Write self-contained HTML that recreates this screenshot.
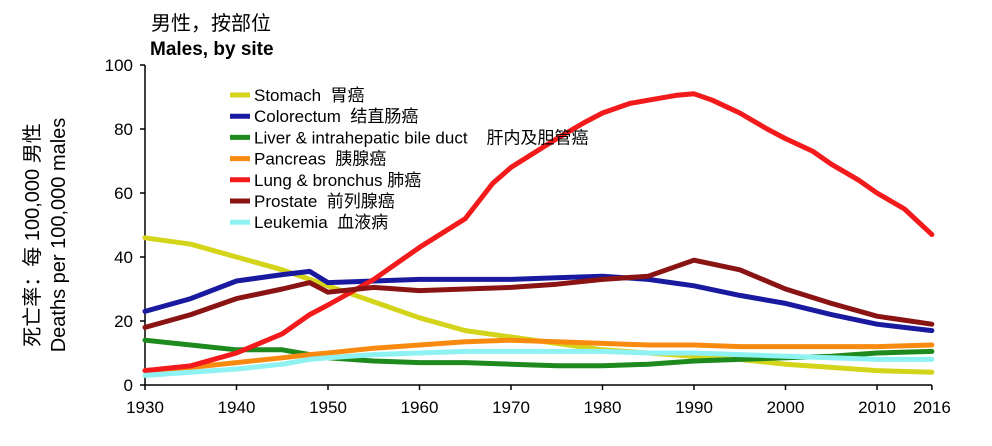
<!DOCTYPE html>
<html><head><meta charset="utf-8"><style>
body{margin:0;background:#fff;}
svg{display:block;font-family:"Liberation Sans","Noto Sans CJK SC",sans-serif;}
</style></head><body>
<svg id="chart" width="992" height="446" viewBox="0 0 992 446">
<text x="151" y="30" font-size="20">男性，按部位</text>
<text x="150" y="55" font-size="19" font-weight="bold">Males, by site</text>
<g transform="translate(39,235) rotate(-90)"><text x="0" y="0" text-anchor="middle" font-size="20">死亡率：每 100,000 男性</text><text x="0" y="26" text-anchor="middle" font-size="20">Deaths per 100,000 males</text></g>
<g id="axes"></g><g id="lines"></g><g id="legend"></g>
</svg>
<script>
const years=[1930,1935,1940,1945,1948,1950,1955,1960,1965,1970,1975,1980,1985,1990,1995,2000,2005,2010,2016];
const lungYears=[1930,1935,1940,1945,1948,1950,1955,1957,1960,1965,1968,1970,1975,1978,1980,1983,1985,1988,1990,1992,1995,1998,2000,2003,2005,2008,2010,2013,2016];
const lung=[4.5,6,10,16,22,25,33,37,43,52,63,68,77,82,85,88,89,90.5,91,89,85,80,77,73,69,64,60,55,47];
const stomach=[46,44,40,36,33,31,26,21,17,15,13,11,10,9,8,6.5,5.5,4.5,4];
const colorectum=[23,27,32.5,34.5,35.5,32,32.5,33,33,33,33.5,34,33,31,28,25.5,22,19,17];
const liver=[14,12.5,11,11,9.5,8.5,7.5,7,7,6.5,6,6,6.5,7.5,8,8.5,9,10,10.5];
const pancreas=[4.5,5.5,7,8.5,9.5,10,11.5,12.5,13.5,14,13.5,13,12.5,12.5,12,12,12,12,12.5];
const prostate=[18,22,27,30,32,29,30.5,29.5,30,30.5,31.5,33,34,39,36,30,25.5,21.5,19];
const leukemia=[3,4,5,6.5,8,8.5,9.5,10,10.5,10.5,10.5,10.5,10,10,9.5,9,8.5,8,8];
const yTicks=[0,20,40,60,80,100];
const xTicks=[1930,1940,1950,1960,1970,1980,1990,2000,2010,2016];
const series=[
{name:'Stomach',cn:'胃癌',color:'#d4d41a',xs:years,ys:stomach,key:'stomach',gap:'\u00a0\u00a0'},
{name:'Colorectum',cn:'结直肠癌',color:'#1a1aa0',xs:years,ys:colorectum,key:'colorectum',gap:'\u00a0\u00a0'},
{name:'Liver & intrahepatic bile duct',cn:'肝内及胆管癌',color:'#1e8a1e',xs:years,ys:liver,key:'liver',gap:'\u00a0\u00a0\u00a0\u00a0'},
{name:'Pancreas',cn:'胰腺癌',color:'#f98a10',xs:years,ys:pancreas,key:'pancreas',gap:'\u00a0\u00a0'},
{name:'Lung & bronchus',cn:'肺癌',color:'#f21a1a',xs:lungYears,ys:lung,key:'lung',gap:'\u00a0'},
{name:'Prostate',cn:'前列腺癌',color:'#8a1414',xs:years,ys:prostate,key:'prostate',gap:'\u00a0\u00a0'},
{name:'Leukemia',cn:'血液病',color:'#8ef2f2',xs:years,ys:leukemia,key:'leukemia',gap:'\u00a0\u00a0'}];
const NS='http://www.w3.org/2000/svg';
const X=v=>145+(v-1930)*9.15, Y=v=>385-v*3.2;
function mk(t,a,p){const e=document.createElementNS(NS,t);for(const k in a)e.setAttribute(k,a[k]);p.appendChild(e);return e;}
const axes=document.getElementById('axes');
const ya=mk('line',{x1:145,y1:65,x2:145,y2:385,stroke:'#000','stroke-width':1.5},axes);


const xa=mk('line',{x1:145,y1:385,x2:X(2016),y2:385,stroke:'#000','stroke-width':1.5},axes);


yTicks.forEach(v=>{mk('line',{x1:140,y1:Y(v),x2:145,y2:Y(v),stroke:'#000','stroke-width':1.5},axes);
const t=mk('text',{x:133,y:Y(v)+6,'text-anchor':'end','font-size':17},axes);t.textContent=v;

});
xTicks.forEach(v=>{mk('line',{x1:X(v),y1:385,x2:X(v),y2:390,stroke:'#000','stroke-width':1.5},axes);
const t=mk('text',{x:X(v),y:413,'text-anchor':'middle','font-size':17},axes);t.textContent=v;

});
const lines=document.getElementById('lines'),leg=document.getElementById('legend');
series.forEach((s,i)=>{
const d=s.xs.map((x,j)=>(j?'L':'M')+X(x).toFixed(1)+','+Y(s.ys[j]).toFixed(1)).join('');
const p=mk('path',{d:d,fill:'none',stroke:s.color,'stroke-width':5,'stroke-linejoin':'round','stroke-linecap':'round'},lines);


const y=95+i*21.2;
const g=mk('g',{},leg);


mk('line',{x1:230,y1:y,x2:250,y2:y,stroke:s.color,'stroke-width':5},g);
const t=mk('text',{x:254,y:y+6,'font-size':17},g);t.textContent=s.name+s.gap+s.cn;
});
</script>
</body></html>
